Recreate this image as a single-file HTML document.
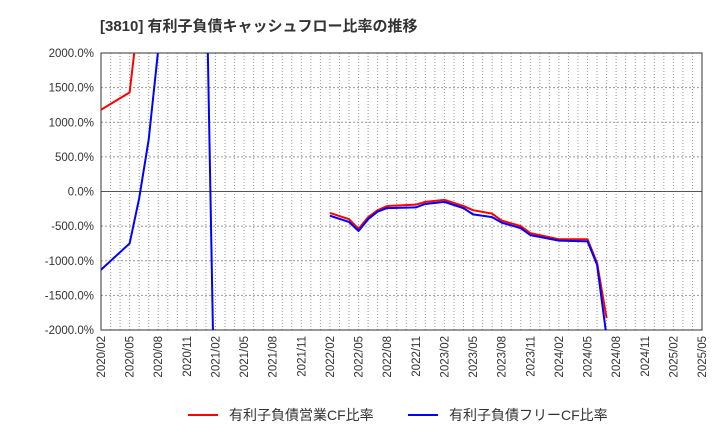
<!DOCTYPE html>
<html><head><meta charset="utf-8"><style>
html,body{margin:0;padding:0;background:#fff;overflow:hidden;width:720px;height:440px;font-family:"Liberation Sans","Noto Sans CJK JP",sans-serif;}
svg{display:block;}
svg text{font-family:"Liberation Sans","Noto Sans CJK JP",sans-serif;}
</style></head><body>
<svg id="c" width="720" height="440" xmlns="http://www.w3.org/2000/svg">
<text x="100" y="31" font-size="15" font-weight="bold" fill="#333">[3810]  有利子負債キャッシュフロー比率の推移</text>
<defs><clipPath id="pc"><rect x="101" y="53" width="601" height="277"/></clipPath></defs>
<g id="grid"></g><g id="axes"></g><g id="series" clip-path="url(#pc)"></g>
<g>
<line x1="188" y1="415" x2="218" y2="415" stroke="#f00" stroke-width="2"/>
<text x="229" y="420" font-size="14" fill="#333">有利子負債営業CF比率</text>
<line x1="408" y1="415" x2="438" y2="415" stroke="#00f" stroke-width="2"/>
<text x="449" y="420" font-size="14" fill="#333">有利子負債フリーCF比率</text>
</g>
</svg>
<script>
const xLabels=["2020/02","2020/05","2020/08","2020/11","2021/02","2021/05","2021/08","2021/11","2022/02","2022/05","2022/08","2022/11","2023/02","2023/05","2023/08","2023/11","2024/02","2024/05","2024/08","2024/11","2025/02","2025/05"];
const yTicks=[2000,1500,1000,500,0,-500,-1000,-1500,-2000];
// month index from 2020/02
const redMonths=[0,3,4,5,24,26,27,28,29,30,33,34,36,38,39,41,42,44,45,48,51,52,53];
const redValues=[1180,1430,2610,6000,-310,-400,-540,-370,-270,-210,-190,-150,-120,-210,-270,-320,-420,-500,-600,-690,-690,-1030,-1830];
const blueMonths=[0,3,4,5,6,9,11,12,24,26,27,28,29,30,33,34,36,38,39,41,42,44,45,48,51,52,53];
const blueValues=[-1130,-750,-100,750,2050,6000,3500,-4000,-350,-440,-570,-400,-290,-240,-230,-180,-150,-240,-330,-370,-450,-530,-630,-710,-720,-1060,-2100];
const NS="http://www.w3.org/2000/svg";
const X0=101,X1=702,Y0=53,Y1=330;
const xs=m=>X0+m*(X1-X0)/63;
const ys=v=>Y0+(2000-v)*(Y1-Y0)/4000;
const grid=document.getElementById('grid'),axes=document.getElementById('axes'),ser=document.getElementById('series');
function mk(tag,attrs,parent){const e=document.createElementNS(NS,tag);for(const k in attrs)e.setAttribute(k,attrs[k]);parent.appendChild(e);return e;}
for(let m=1;m<63;m++){const l=mk('line',{x1:xs(m),x2:xs(m),y1:Y0,y2:Y1,stroke:'#999','stroke-dasharray':'1,2','stroke-width':1},grid);

}
yTicks.forEach(v=>{const y=ys(v);
const l=mk('line',{x1:X0,x2:X1,y1:y,y2:y,stroke:v===0?'#555':'#999','stroke-dasharray':v===0?'':'2,2','stroke-width':1},grid);


const t=mk('text',{x:X0-7,y:y+4,'font-size':11.5,'text-anchor':'end',fill:'#333'},axes);t.textContent=v.toFixed(1)+'%';

});
const fr=mk('rect',{x:X0,y:Y0,width:X1-X0,height:Y1-Y0,fill:'none',stroke:'#333'},axes);


xLabels.forEach((s,i)=>{const x=xs(i*3);const t=mk('text',{x:0,y:0,'font-size':11.5,'text-anchor':'end',fill:'#333',transform:`translate(${x+4},${Y1+6}) rotate(-90)`},axes);t.textContent=s;

});
function line(ms,vs,col,name){const segs=[];let cur=[];for(let i=0;i<ms.length;i++){if(i>0&&ms[i]-ms[i-1]>6){segs.push(cur);cur=[];}cur.push(xs(ms[i])+','+ys(vs[i]));}segs.push(cur);
segs.forEach(sg=>{const p=mk('polyline',{points:sg.join(' '),fill:'none',stroke:col,'stroke-width':2,'stroke-linejoin':'round'},ser);

});}
line(redMonths,redValues,'#f00','operating-cf-line');
line(blueMonths,blueValues,'#00f','free-cf-line');
</script>
</body></html>
